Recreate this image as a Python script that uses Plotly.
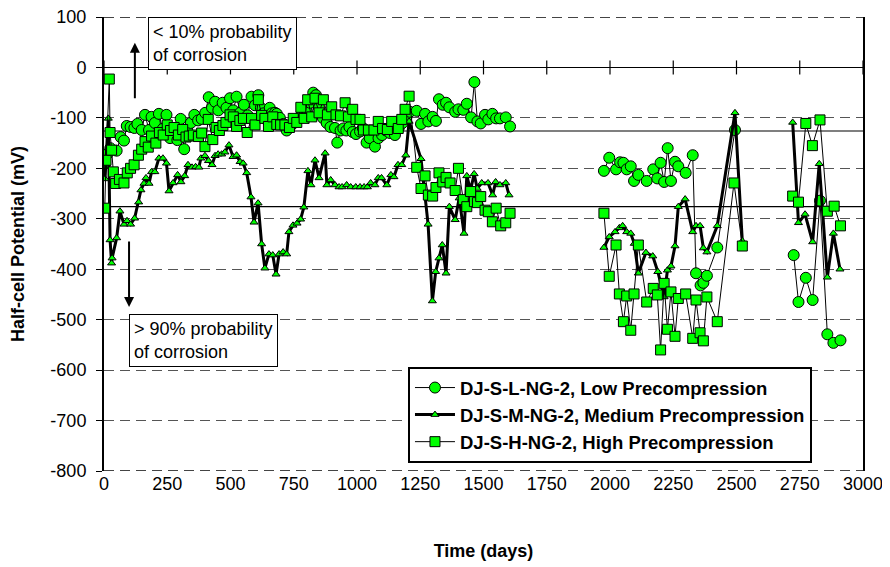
import plotly.graph_objects as go

# ---------------- data ----------------
low_days = [3, 12, 25, 50, 66, 79, 90, 105, 120, 132, 149, 162, 178, 188, 201, 217, 232, 247, 261, 275,
            290, 303, 317, 329, 343, 357, 372, 386, 400, 414, 427, 439, 452, 469, 484, 498, 511, 524, 538, 553,
            568, 583, 597, 610, 620, 630, 643, 655, 663, 676, 683, 695, 709, 722, 740, 760, 780, 800, 815, 827,
            838, 850, 865, 880, 895, 913, 922, 935, 946, 958, 970, 983, 996, 1012, 1023, 1038, 1050, 1071, 1085, 1099,
            1115, 1130, 1150, 1165, 1180, 1195, 1209, 1236, 1253, 1269, 1282, 1299, 1312, 1324, 1339, 1352, 1365, 1388, 1401, 1420,
            1434, 1451, 1464, 1476, 1489, 1506, 1519, 1535, 1550, 1565, 1588, 1605, None,
            1976, 1997, 2024, 2040, 2053, 2066, 2082, 2095, 2112, 2145, 2171, 2187, 2200, 2214, 2228, 2241, 2257, 2270, 2299, 2327,
            2340, 2358, 2369, 2383, 2424, 2494, None,
            2726, 2745, 2774, 2801, 2830, 2859, 2883, 2911]
low_mv = [-190, -172, -160, -165, -138, -145, -116, -118, -120, -112, -124, -94, -124, -98, -110, -92, -122, -94, -140, -120,
          -144, -102, -162, -124, -110, -94, -105, -102, -90, -59, -80, -68, -85, -70, -80, -61, -85, -58, -90, -74,
          -95, -58, -75, -55, -80, -91, -104, -80, -91, -90, -92, -100, -112, -125, -115, -105, -95, -85, -70, -50,
          -55, -80, -100, -110, -118, -120, -149, -125, -121, -125, -118, -128, -132, -127, -120, -149, -140, -157, -140, -134,
          -125, -130, -134, -120, -110, -100, -88, -86, -112, -92, -107, -98, -106, -63, -74, -70, -79, -88, -83, -84,
          -72, -99, -29, -107, -111, -94, -103, -92, -101, -101, -99, -117, None,
          -205, -179, -202, -188, -189, -202, -196, -225, -213, -225, -202, -220, -189, -227, -160, -225, -187, -196, -209, -174,
          -408, -432, -427, -413, -357, -124, None,
          -372, -465, -417, -461, -264, -529, -546, -541]

med_days = [4, 17, 24, 30, 32, 50, 63, 79, 91, 105, 121, 137, 146, 158, 166, 178, 188, 201, 217, 233,
            247, 257, 273, 291, 304, 319, 332, 348, 362, 375, 383, 399, 413, 427, 439, 451, 465, 478, 494, 510,
            524, 538, 550, 564, 581, 593, 609, 623, 636, 652, 667, 680, 692, 708, 722, 731, 747, 763, 777, 790,
            806, 818, 834, 850, 874, 881, 896, 913, 929, 941, 959, 975, 995, 1012, 1028, 1041, 1054, 1071, 1084, 1097,
            1118, 1134, 1146, 1162, 1177, 1193, 1206, 1253, 1281, 1298, 1311, 1324, 1337, 1352, 1365, 1388, 1404, 1423, 1434, 1449,
            1463, 1475, 1493, 1518, 1536, 1548, 1565, 1588, 1601, None,
            1976, 1997, 2020, 2037, 2050, 2066, 2082, 2096, 2112, 2142, 2169, 2189, 2214, 2227, 2241, 2257, 2270, 2297, 2327, 2340,
            2356, 2369, 2383, 2424, 2494, 2523, None,
            2722, 2745, 2771, 2801, 2827, 2859, 2883, 2909]
med_mv = [-221, -101, -342, -388, -378, -338, -285, -311, -304, -311, -299, -267, -243, -230, -219, -230, -207, -207, -180, -180,
          -190, -245, -229, -213, -227, -215, -193, -198, -197, -198, -180, -175, -185, -193, -175, -172, -172, -168, -154, -177,
          -174, -187, -190, -209, -257, -307, -269, -350, -398, -370, -372, -410, -370, -366, -370, -326, -313, -309, -301, -277,
          -205, -233, -184, -219, -170, -233, -223, -233, -237, -237, -233, -237, -237, -237, -237, -237, -229, -233, -219, -219,
          -233, -213, -217, -193, -193, -174, -107, -181, -311, -463, -405, -378, -352, -408, -276, -302, -259, -329, -215, -243,
          -211, -240, -229, -229, -253, -227, -233, -229, -253, None,
          -357, -336, -326, -318, -314, -326, -329, -349, -408, -367, -374, -405, -455, -402, -394, -354, -276, -261, -326, -314,
          -314, -358, -366, -314, -90, -344, None,
          -109, -308, -291, -346, -191, -416, -329, -400]

high_days = [3, 8, 21, 24, 30, 37, 46, 61, 79, 92, 105, 119, 136, 149, 162, 175, 188, 205, 219, 234,
             250, 263, 277, 294, 311, 324, 337, 353, 373, 386, 399, 412, 430, 443, 456, 470, 482, 498, 511, 524,
             537, 551, 566, 583, 597, 610, 623, 636, 650, 667, 683, 698, 715, 733, 748, 762, 778, 791, 805, 821,
             834, 850, 867, 883, 900, 917, 935, 953, 966, 983, 996, 1012, 1025, 1045, 1067, 1084, 1101, 1120, 1137, 1163,
             1177, 1190, 1206, 1236, 1253, 1269, 1282, 1299, 1312, 1324, 1339, 1352, 1368, 1388, 1401, 1420, 1434, 1449, 1464, 1476,
             1489, 1506, 1519, 1535, 1550, 1568, 1588, 1605, None,
             1976, 1997, 2024, 2037, 2053, 2066, 2082, 2095, 2112, 2145, 2171, 2187, 2200, 2214, 2227, 2241, 2257, 2270, 2299, 2327,
             2340, 2356, 2369, 2383, 2424, 2490, 2523, None,
             2722, 2745, 2774, 2800, 2830, 2859, 2886, 2911]
high_mv = [-279, -184, -23, -129, -164, -207, -230, -222, -229, -209, -200, -193, -174, -162, -147, -158, -136, -150, -129, -134,
           -114, -125, -119, -134, -123, -138, -136, -134, -137, -130, -157, -103, -143, -119, -125, -115, -109, -94, -98, -117,
           -105, -101, -129, -101, -114, -64, -95, -101, -117, -98, -113, -114, -114, -119, -101, -109, -79, -101, -64, -98,
           -61, -90, -64, -94, -78, -94, -96, -70, -98, -83, -103, -103, -124, -124, -124, -107, -121, -123, -107, -121,
           -103, -83, -57, -198, -240, -215, -253, -255, -238, -209, -227, -218, -229, -244, -200, -262, -276, -246, -266, -268,
           -256, -283, -286, -306, -279, -314, -308, -289, None,
           -289, -414, -352, -449, -504, -453, -521, -449, -352, -465, -438, -451, -560, -428, -519, -445, -533, -458, -449, -537,
           -461, -526, -542, -455, -504, -229, -354, None,
           -255, -267, -111, -155, -104, -285, -275, -314]

series_names = ["DJ-S-L-NG-2, Low Precompression",
                "DJ-S-M-NG-2, Medium Precompression",
                "DJ-S-H-NG-2, High Precompression"]

x_ticks = [0, 250, 500, 750, 1000, 1250, 1500, 1750, 2000, 2250, 2500, 2750, 3000]
y_ticks = [100, 0, -100, -200, -300, -400, -500, -600, -700, -800]
y_range = [-800, 100]
thresholds = [-126, -276]   # 10% / 90% probability of corrosion limits (mV)

FONT = "Liberation Sans, Arial, sans-serif"
GREEN = "#00FF00"
FS = 18

fig = go.Figure()

fig.add_trace(go.Scatter(
    x=low_days, y=low_mv, name=series_names[0], mode="lines+markers",
    line=dict(color="black", width=1), connectgaps=False,
    marker=dict(symbol="circle", size=11, color=GREEN, line=dict(color="black", width=1)),
    legendgroup="a"))
fig.add_trace(go.Scatter(
    x=med_days, y=med_mv, name=series_names[1], mode="lines+markers",
    line=dict(color="black", width=3), connectgaps=False,
    marker=dict(symbol="triangle-up", size=7, color=GREEN, line=dict(color="black", width=1)),
    legendgroup="b"))
fig.add_trace(go.Scatter(
    x=high_days, y=high_mv, name=series_names[2], mode="lines+markers",
    line=dict(color="black", width=1), connectgaps=False,
    marker=dict(symbol="square", size=10, color=GREEN, line=dict(color="black", width=1)),
    legendgroup="c"))

shapes = []
for t in thresholds:
    shapes.append(dict(type="line", xref="paper", yref="y", x0=0, x1=1, y0=t, y1=t,
                       line=dict(color="black", width=1.2), layer="below"))
# dashed border lines at the top and bottom of the value range
for t in y_range:
    shapes.append(dict(type="line", xref="paper", yref="y", x0=0, x1=1, y0=t, y1=t,
                       line=dict(color="#444444", width=2, dash="10px,6px"), layer="below"))
# x-axis tick marks crossing the 0 mV line
for xt in x_ticks:
    shapes.append(dict(type="line", xref="x", yref="y", ysizemode="pixel", yanchor=0,
                       x0=xt, x1=xt, y0=-7, y1=7, line=dict(color="black", width=1.2)))

annotations = [
    dict(text="< 10% probability<br>of corrosion", xref="paper", yref="paper", x=0.058, y=0.999,
         xanchor="left", yanchor="top", showarrow=False, align="left",
         font=dict(family=FONT, size=FS, color="black"), bgcolor="white",
         bordercolor="black", borderwidth=1, borderpad=4),
    dict(text="> 90% probability<br>of corrosion", xref="paper", yref="paper", x=0.033, y=0.346,
         xanchor="left", yanchor="top", showarrow=False, align="left",
         font=dict(family=FONT, size=FS, color="black"), bgcolor="white",
         bordercolor="black", borderwidth=1, borderpad=4),
    dict(text="", x=122, y=49, ax=122, ay=-64, xref="x", yref="y", axref="x", ayref="y",
         showarrow=True, arrowhead=2, arrowsize=1, arrowwidth=2, arrowcolor="black"),
    dict(text="", x=99, y=-475, ax=99, ay=-342, xref="x", yref="y", axref="x", ayref="y",
         showarrow=True, arrowhead=2, arrowsize=1, arrowwidth=2, arrowcolor="black"),
]

# page body has an 8px margin, so the figure is sized to fit the window
fig.update_layout(
    width=882, height=559,
    margin=dict(l=96, r=27, t=9, b=96),
    paper_bgcolor="white", plot_bgcolor="white",
    font=dict(family=FONT, size=FS, color="black"),
    shapes=shapes, annotations=annotations,
    showlegend=True,
    legend=dict(x=0.4005, y=0.229, xanchor="left", yanchor="top",
                bgcolor="white", bordercolor="black", borderwidth=2,
                font=dict(family=FONT, size=18.5, color="black", weight="bold"),
                tracegroupgap=0, itemwidth=40),
    xaxis=dict(range=[0, 3000], tickvals=x_ticks, ticktext=[str(v) for v in x_ticks],
               showgrid=False, zeroline=False, showline=False, ticks="", automargin=False,
               tickfont=dict(family=FONT, size=FS), ticklabeloverflow="allow",
               title=dict(text="Time (days)", font=dict(family=FONT, size=FS, weight="bold"), standoff=51)),
    yaxis=dict(range=y_range, tickvals=y_ticks, ticktext=[str(v) for v in y_ticks],
               showgrid=True, gridcolor="#555555", gridwidth=1, griddash="10px,6px",
               zeroline=True, zerolinecolor="black", zerolinewidth=1.2,
               showline=True, linecolor="black", linewidth=2, mirror=True,
               ticks="outside", ticklen=6, tickcolor="black", ticklabelstandoff=6, automargin=False,
               tickfont=dict(family=FONT, size=FS), ticklabeloverflow="allow",
               title=dict(text="Half-cell Potential (mV)", font=dict(family=FONT, size=FS, weight="bold"), standoff=22)),
)

fig.write_html("out.html")
